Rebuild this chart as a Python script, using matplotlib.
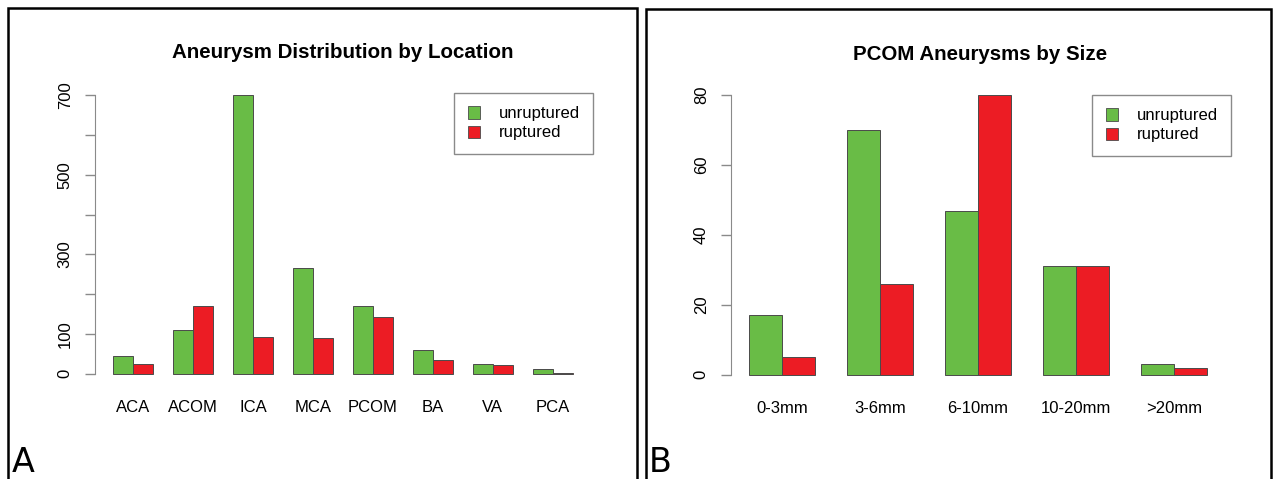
import numpy as np
import matplotlib
matplotlib.use("Agg")
import matplotlib.pyplot as plt
from matplotlib.patches import Rectangle, Patch

# ---------------------------------------------------------------
# Data
# ---------------------------------------------------------------
loc_labels = ["ACA", "ACOM", "ICA", "MCA", "PCOM", "BA", "VA", "PCA"]
loc_unruptured = [45, 111, 700, 267, 170, 61, 24, 11]
loc_ruptured = [24, 171, 92, 91, 144, 35, 23, 3]

size_labels = ["0-3mm", "3-6mm", "6-10mm", "10-20mm", ">20mm"]
size_unruptured = [17, 70, 47, 31, 3]
size_ruptured = [5, 26, 80, 31, 2]

GREEN = "#69bc46"
RED = "#ec1c24"
EDGE = "#4a4a4a"

W, H = 1274, 479
plt.rcParams["font.family"] = ["Liberation Sans", "DejaVu Sans"]

fig = plt.figure(figsize=(W / 100, H / 100), dpi=100)


def px_axes(x0, y0, x1, y1):
    # pixel box (top-left origin) -> axes
    return fig.add_axes([x0 / W, 1 - y1 / H, (x1 - x0) / W, (y1 - y0) / H])


def grouped_bars(ax, labels, unrup, rup, ymax, yticks, ylabels):
    n = len(labels)
    idx = np.arange(n)
    left = 1 + 3 * idx
    ax.bar(left + 0.5, unrup, width=1, color=GREEN, edgecolor=EDGE, linewidth=0.7)
    ax.bar(left + 1.5, rup, width=1, color=RED, edgecolor=EDGE, linewidth=0.7)
    span = 3 * n - 1
    ax.set_xlim(1 - 0.04 * span, 3 * n + 0.04 * span)
    ax.set_ylim(-0.04 * ymax, ymax * 1.04)
    for s in ["top", "right", "bottom"]:
        ax.spines[s].set_visible(False)
    ax.spines["left"].set_bounds(0, ymax)
    ax.spines["left"].set_color("#8a8a8a")
    ax.set_xticks(left + 1)
    ax.set_xticklabels(labels)
    ax.tick_params(axis="x", length=0, pad=11, labelsize=12)
    ax.set_yticks(yticks)
    ax.set_yticklabels(ylabels, rotation=90, va="center")
    ax.tick_params(axis="y", length=7, width=1, color="#8a8a8a", pad=9, labelsize=12)
    ax.patch.set_visible(False)


def add_legend(ax, right, top):
    handles = [Patch(facecolor=GREEN, edgecolor=EDGE, linewidth=0.6, label="unruptured"),
               Patch(facecolor=RED, edgecolor=EDGE, linewidth=0.6, label="ruptured")]
    leg = ax.legend(handles=handles, loc="upper right",
                    bbox_to_anchor=(right / W, 1 - top / H), bbox_transform=fig.transFigure,
                    fontsize=12, fancybox=False, framealpha=1, edgecolor="#8a8a8a",
                    handlelength=0.75, handleheight=0.75, handletextpad=1.1,
                    labelspacing=0.25, borderpad=0.8, borderaxespad=0)
    leg.get_frame().set_linewidth(1.0)


# ---------------------------------------------------------------
# Panel A
# ---------------------------------------------------------------
axA = px_axes(95, 84, 591, 385)
grouped_bars(axA, loc_labels, loc_unruptured, loc_ruptured, 700,
             list(range(0, 800, 100)), ["0", "100", "", "300", "", "500", "", "700"])
add_legend(axA, 593, 93)
fig.text(343 / W, 1 - 52 / H, "Aneurysm Distribution by Location", ha="center", va="center",
         fontsize=14.8, fontweight="bold")

# ---------------------------------------------------------------
# Panel B
# ---------------------------------------------------------------
axB = px_axes(731, 84, 1225, 386)
grouped_bars(axB, size_labels, size_unruptured, size_ruptured, 80,
             [0, 20, 40, 60, 80], ["0", "20", "40", "60", "80"])
add_legend(axB, 1231, 95)
fig.text(980 / W, 1 - 54 / H, "PCOM Aneurysms by Size", ha="center", va="center",
         fontsize=14.8, fontweight="bold")

# panel frames and letters
fig.add_artist(Rectangle((8 / W, -0.05), (637 - 8) / W, 1.05 - 8 / H,
                         transform=fig.transFigure, fill=False, edgecolor="black", linewidth=1.8))
fig.add_artist(Rectangle((646 / W, -0.05), (1271 - 646) / W, 1.05 - 9 / H,
                         transform=fig.transFigure, fill=False, edgecolor="black", linewidth=1.8))
fig.text(12 / W, 1 - 472 / H, "A", fontsize=24, ha="left", va="baseline", family="DejaVu Sans")
fig.text(649 / W, 1 - 472 / H, "B", fontsize=24, ha="left", va="baseline", family="DejaVu Sans")

fig.savefig("out.png", dpi=100)
